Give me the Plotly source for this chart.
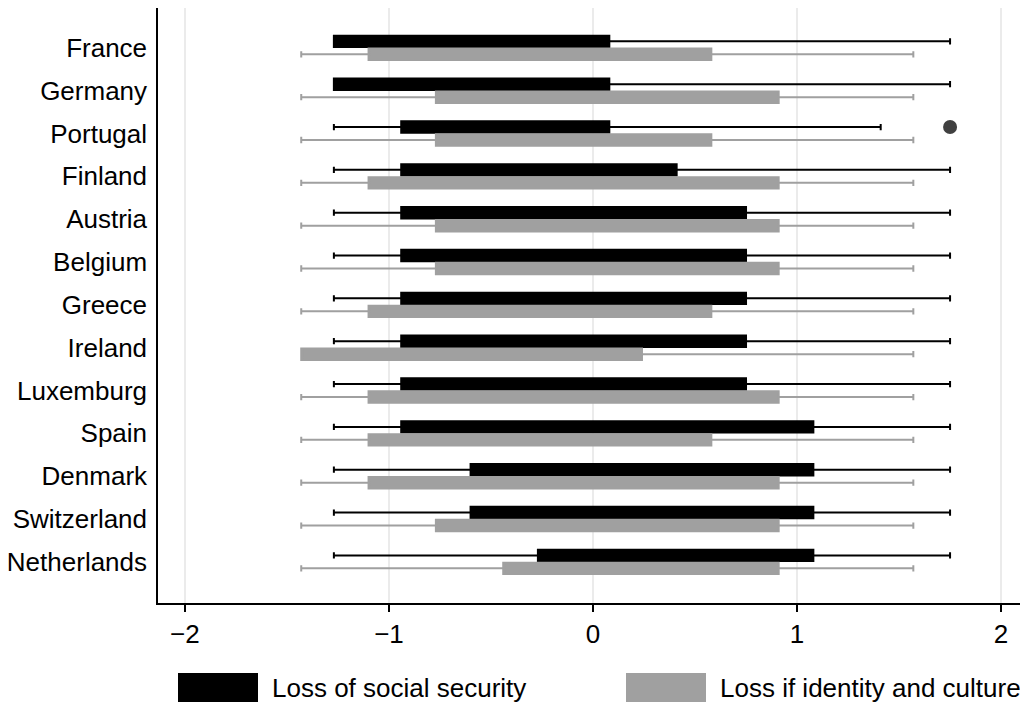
import plotly.graph_objects as go

countries = ["France", "Germany", "Portugal", "Finland", "Austria", "Belgium", "Greece",
             "Ireland", "Luxemburg", "Spain", "Denmark", "Switzerland", "Netherlands"]

# Loss of social security
ss_min = [-1.27, -1.27, -1.27, -1.27, -1.27, -1.27, -1.27, -1.27, -1.27, -1.27, -1.27, -1.27, -1.27]
ss_q1  = [-1.27, -1.27, -0.94, -0.94, -0.94, -0.94, -0.94, -0.94, -0.94, -0.94, -0.60, -0.60, -0.27]
ss_q3  = [0.08, 0.08, 0.08, 0.41, 0.75, 0.75, 0.75, 0.75, 0.75, 1.08, 1.08, 1.08, 1.08]
ss_max = [1.75, 1.75, 1.41, 1.75, 1.75, 1.75, 1.75, 1.75, 1.75, 1.75, 1.75, 1.75, 1.75]
ss_outlier_country = ["Portugal"]
ss_outlier_value = [1.75]

# Loss of identity and culture
ic_min = [-1.43] * 13
ic_q1  = [-1.10, -0.77, -0.77, -1.10, -0.77, -0.77, -1.10, -1.43, -1.10, -1.10, -1.10, -0.77, -0.44]
ic_q3  = [0.58, 0.91, 0.58, 0.91, 0.91, 0.91, 0.58, 0.24, 0.91, 0.58, 0.91, 0.91, 0.91]
ic_max = [1.57] * 13

series_names = ["Loss of social security", "Loss if identity and culture"]
colors = ["#000000", "#a0a0a0"]

FONT = "Liberation Sans, Arial, Helvetica, sans-serif"
pos = list(range(len(countries)))
BOXGAP = 0.394

fig = go.Figure()
for name, mn, q1, q3, mx, col in [
    (series_names[0], ss_min, ss_q1, ss_q3, ss_max, colors[0]),
    (series_names[1], ic_min, ic_q1, ic_q3, ic_max, colors[1]),
]:
    fig.add_trace(go.Box(
        y=pos, orientation="h", name=name,
        q1=q1, median=q1, q3=q3, lowerfence=mn, upperfence=mx,
        fillcolor=col, line=dict(color=col, width=2),
        whiskerwidth=0.55, boxpoints=False, showlegend=False, hoverinfo="skip",
    ))

# outlier (placed at the black box's offset within its category group)
offset = -(1 - BOXGAP) / 4
fig.add_trace(go.Scatter(
    x=ss_outlier_value,
    y=[countries.index(c) + offset for c in ss_outlier_country],
    mode="markers", marker=dict(color="#404040", size=14),
    showlegend=False, hoverinfo="skip",
))

# custom legend (page has an 8px body margin)
W, H = 870, 595
def px(x):
    return (x - 158) / W
def py(y):
    return (603 - y) / H
legend_items = [(178, 258, 270), (626, 706, 718)]
for (x0, x1, tx), name, col in zip(legend_items, series_names, colors):
    fig.add_shape(type="rect", xref="paper", yref="paper",
                  x0=px(x0), x1=px(x1), y0=py(702), y1=py(673),
                  fillcolor=col, line=dict(width=0))
    fig.add_annotation(xref="paper", yref="paper", x=px(tx), y=py(688),
                       text=name, showarrow=False, xanchor="left", yanchor="middle",
                       font=dict(family=FONT, size=26, color="#000000"))

fig.update_layout(
    width=1020, height=696,
    margin=dict(l=150, r=0, t=0, b=101, autoexpand=False),
    paper_bgcolor="white", plot_bgcolor="white",
    boxmode="group", boxgap=BOXGAP, boxgroupgap=0.12,
    font=dict(family=FONT, size=26, color="#000000"),
    showlegend=False,
)
fig.update_xaxes(
    range=[-2.132, 2.132], tickvals=[-2, -1, 0, 1, 2], ticktext=["\u22122", "\u22121", "0", "1", "2"],
    showgrid=True, gridcolor="#ebebeb", gridwidth=1.5, zeroline=False,
    showline=True, linecolor="#000000", linewidth=1.5,
    ticks="outside", ticklen=7, tickwidth=1.5, tickcolor="#000000",
    tickfont=dict(size=26),
)
fig.update_yaxes(
    range=[12.96, -0.93], tickvals=pos, ticktext=countries,
    showgrid=False, zeroline=False,
    showline=True, linecolor="#000000", linewidth=1.5,
    ticks="", ticklabelstandoff=4, tickfont=dict(size=26),
)

fig.write_html("out.html")
